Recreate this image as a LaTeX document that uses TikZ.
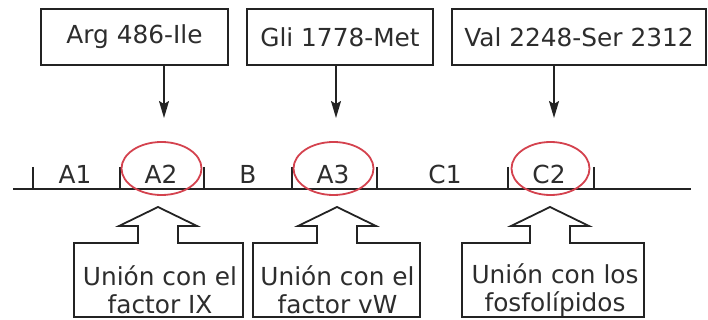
\documentclass[tikz,border=0pt]{standalone}
\usepackage{fontspec}
\setmainfont{DejaVu Sans}
\usetikzlibrary{arrows.meta,calc,shapes.geometric}
\definecolor{ink}{RGB}{35,35,35}
\definecolor{txt}{RGB}{45,45,45}
\definecolor{ringred}{RGB}{212,66,78}

\begin{document}
\begin{tikzpicture}[x=1pt,y=-1pt,
  font=\fontsize{24.8}{28}\selectfont, text=txt,
  topbox/.style={draw=ink, line width=1.8pt, minimum height=56pt, inner sep=0pt},
  pointer/.style={draw=ink, line width=1.6pt, -{Stealth[length=17pt,width=10pt,inset=3pt]}},
  axis/.style={draw=ink, line width=2.4pt},
  tickmark/.style={draw=ink, line width=1.5pt},
  seg/.style={anchor=base, inner sep=0pt},
  ring/.style={ellipse, draw=ringred, line width=1.8pt, minimum width=80pt, minimum height=53pt, inner sep=0pt},
  outline/.style={draw=ink, line width=1.8pt, line join=miter},
  caption/.style={align=center, inner sep=0pt}]

\useasboundingbox (0,0) rectangle (708,320);

% mutation boxes along the top
\node[topbox, minimum width=187pt] (m1) at (134.5,37) {Arg 486-Ile};
\node[topbox, minimum width=186pt] (m2) at (340,37) {Gli 1778-Met};
\node[topbox, minimum width=254pt] (m3) at (579,37) {Val 2248-Ser 2312};

% arrow ends just above the domains
\coordinate (p1) at (164,118);
\coordinate (p2) at (336,118);
\coordinate (p3) at (554,118);
\draw[pointer] (m1.south -| p1) -- (p1);
\draw[pointer] (m2.south -| p2) -- (p2);
\draw[pointer] (m3.south -| p3) -- (p3);

% domain axis with tick marks
\coordinate (L0) at (13,189);
\coordinate (L1) at (691,189);
\draw[axis] (L0) -- (L1);
\foreach \x in {33,120,204,292,377,508,594}
  \draw[tickmark] (\x,167) -- (\x,189);

% domain names
\node[seg] (dA1) at (75,184) {A1};
\node[seg] (dA2) at (161,184) {A2};
\node[seg] (dB)  at (248,184) {B};
\node[seg] (dA3) at (333,184) {A3};
\node[seg] (dC1) at (445,184) {C1};
\node[seg] (dC2) at (549,184) {C2};

% red rings around the binding domains
\node[ring] (r1) at (161.5,168.5) {};
\node[ring] (r2) at (333.5,168.5) {};
\node[ring, minimum width=78pt] (r3) at (550.5,168.5) {};

% block-arrow callouts below the axis
\coordinate (t1) at (158,207);
\coordinate (t2) at (337,207);
\coordinate (t3) at (550,207);
\foreach \t/\bl/\br in {t1/74/243, t2/253/420, t3/462/644}
  \draw[outline] (\bl,317) -- (\bl,243) -- ($(\t)+(-20,36)$) -- ($(\t)+(-20,19)$)
    -- ($(\t)+(-39,19)$) -- (\t) -- ($(\t)+(39,19)$) -- ($(\t)+(20,19)$)
    -- ($(\t)+(20,36)$) -- (\br,243) -- (\br,317) -- cycle;

\node[caption] (c1) at (160,290) {Unión con el\\factor IX};
\node[caption] (c2) at (337.5,290) {Unión con el\\factor vW};
\node[caption] (c3) at (555,290) {Unión con los\\fosfolípidos};
\end{tikzpicture}
\end{document}
